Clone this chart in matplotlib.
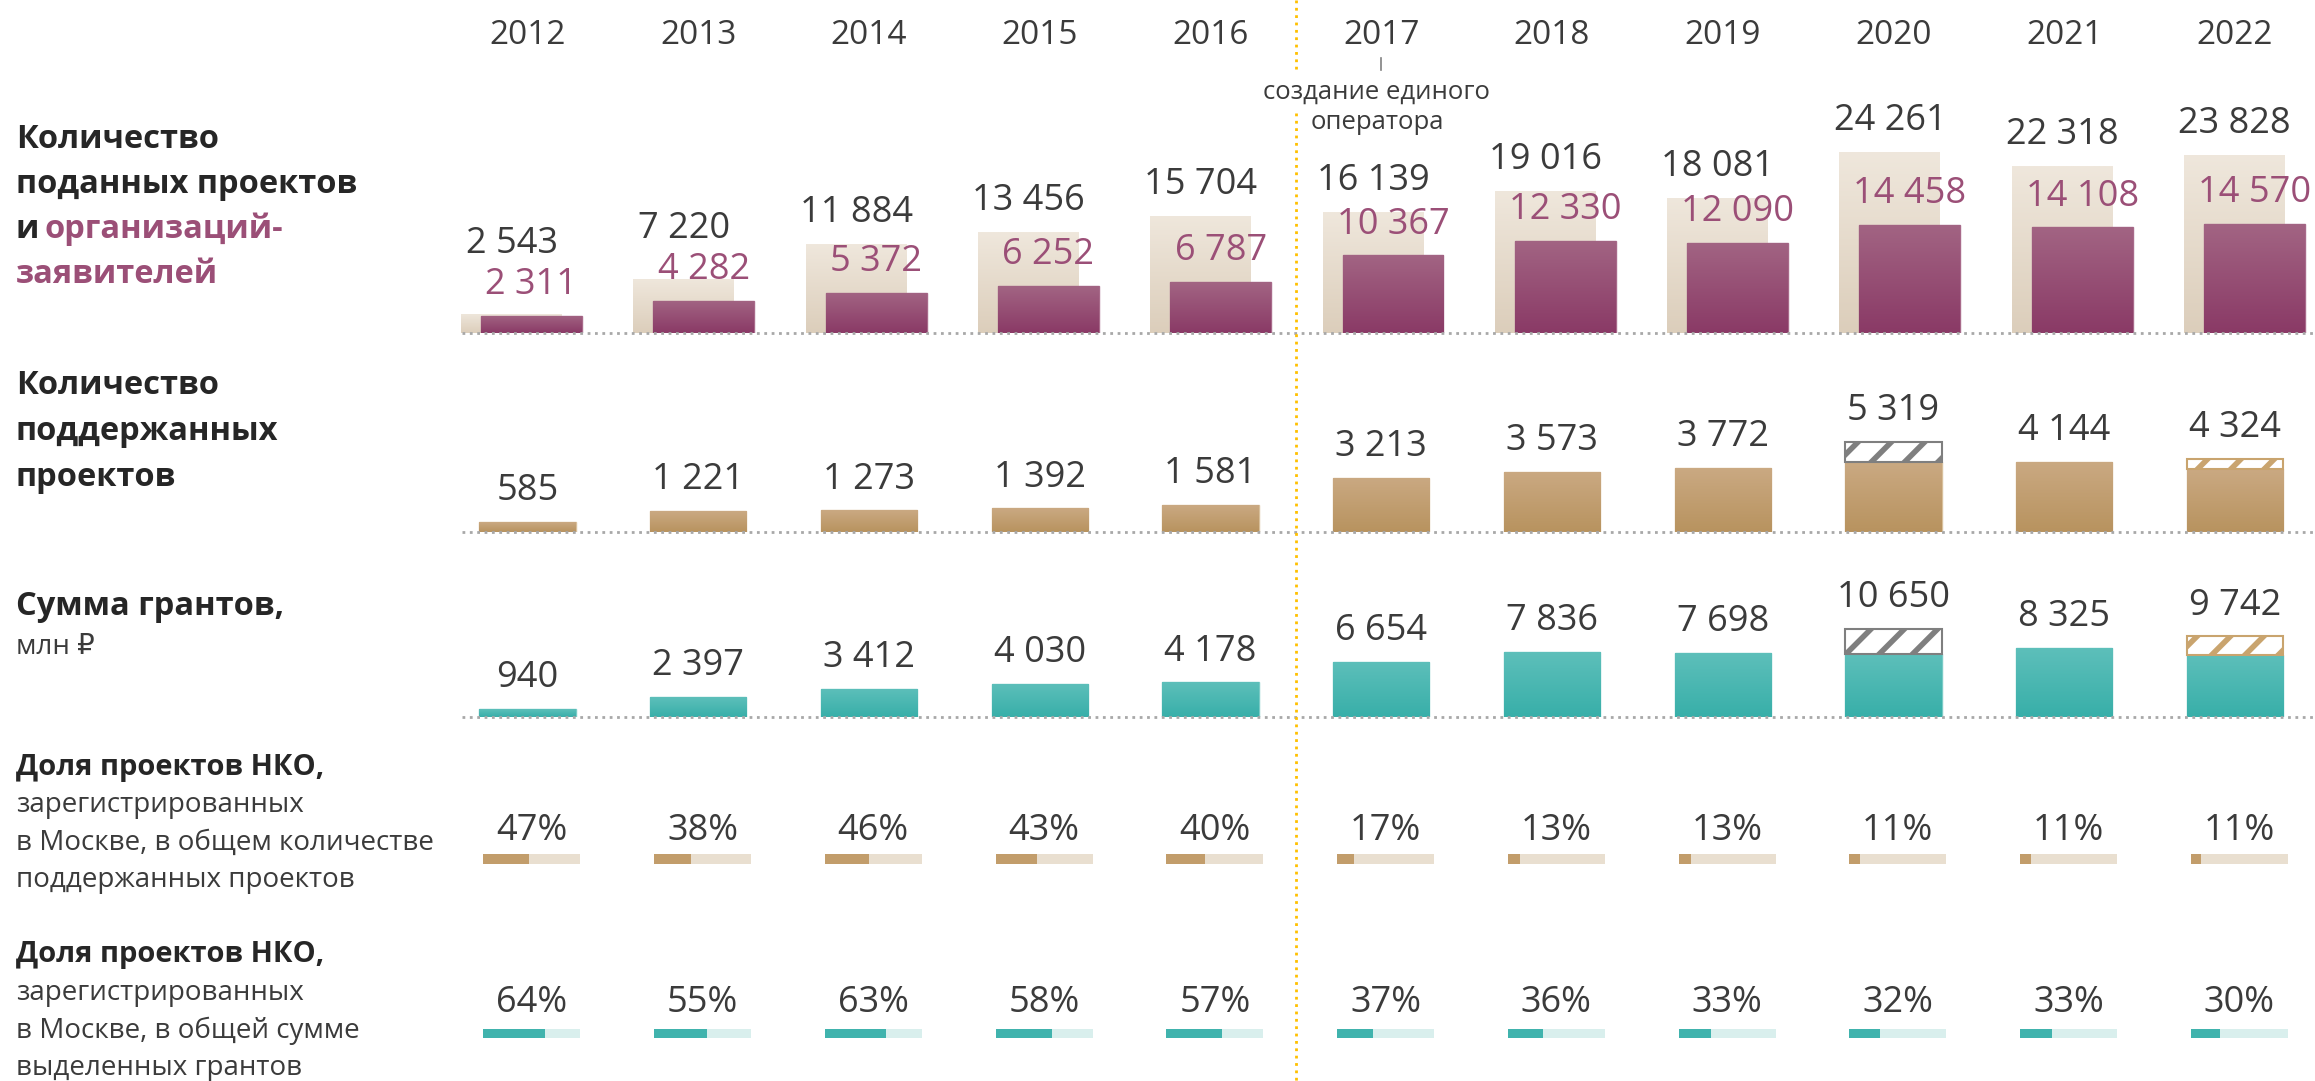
import numpy as np
import matplotlib
matplotlib.use('Agg')
import matplotlib.pyplot as plt
from matplotlib import transforms
from matplotlib.colors import LinearSegmentedColormap

plt.rcParams['font.family'] = ['Open Sans', 'DejaVu Sans']
plt.rcParams['hatch.linewidth'] = 4

# data
years = ['2012', '2013', '2014', '2015', '2016', '2017', '2018', '2019', '2020', '2021', '2022']
projects = [2543, 7220, 11884, 13456, 15704, 16139, 19016, 18081, 24261, 22318, 23828]
orgs = [2311, 4282, 5372, 6252, 6787, 10367, 12330, 12090, 14458, 14108, 14570]
supported = [585, 1221, 1273, 1392, 1581, 3213, 3573, 3772, 5319, 4144, 4324]
supported_hatched = [0, 0, 0, 0, 0, 0, 0, 0, 1182, 0, 606]
grants = [940, 2397, 3412, 4030, 4178, 6654, 7836, 7698, 10650, 8325, 9742]
grants_hatched = [0, 0, 0, 0, 0, 0, 0, 0, 3050, 0, 2230]
pct_count = [47, 38, 46, 43, 40, 17, 13, 13, 11, 11, 11]
pct_sum = [64, 55, 63, 58, 57, 37, 36, 33, 32, 33, 30]

# colours
TXT = '#3B3B3B'
DARK = '#262626'
PURPLE_TXT = '#9B4F77'
hatch_colors = {8: '#7F7F7F', 10: '#C9A46E'}

W, H = 2315, 1081
fig = plt.figure(figsize=(W / 100, H / 100), dpi=100)


def add_ax(left, right, top, bottom):
    ax = fig.add_axes([left / W, 1 - bottom / H, (right - left) / W, (bottom - top) / H])
    ax.axis('off')
    return ax


def fmt(v):
    return f'{v:,}'.replace(',', ' ')


def grad(ax, bars, c_top, c_bot):
    cmap = LinearSegmentedColormap.from_list('g', [c_bot, c_top])
    for b in bars:
        x0, y0, w, h = b.get_x(), b.get_y(), b.get_width(), b.get_height()
        if h <= 0 or w <= 0:
            continue
        im = ax.imshow(np.linspace(0, 1, 64).reshape(-1, 1), cmap=cmap, origin='lower',
                       extent=[x0, x0 + w, y0, y0 + h], aspect='auto', zorder=b.get_zorder() + 0.01)
        im.set_clip_path(b)


STEP, COL0 = 170.75, 527.5
x = np.arange(len(years))
LEFT = 462

# panel 1: submitted projects and organisations
ax1 = add_ax(LEFT, W, 333 - 224.4, 333)
ax1.set_xlim((LEFT - 521.5) / 172.3, (W - 521.5) / 172.3)
ax1.set_ylim(0, 30000)
per_px1 = 30000 / 224.4
b1 = ax1.bar(x - 0.058, projects, width=0.586, color='#E6DACA', zorder=2)
grad(ax1, b1, '#EFE7DC', '#DCCEBB')
b2 = ax1.bar(x + 0.058, orgs, width=0.586, color='#933F6C', edgecolor='#A86A8A', lw=1, zorder=3)
grad(ax1, b2, '#A26483', '#8A3A66')
ax1.axhline(0, ls=':', color='#A8A8A8', lw=2, zorder=10, clip_on=False)
for i in range(len(years)):
    ax1.annotate(fmt(orgs[i]), (x[i] + 0.058, orgs[i]), xytext=(0, 15.8), textcoords='offset points',
                 ha='center', va='baseline', fontsize=26, color=PURPLE_TXT, zorder=12)
    ytop = max(projects[i], orgs[i] + 41 * per_px1)
    ax1.annotate(fmt(projects[i]), (x[i] - 0.058, ytop), xytext=(0, 15.8), textcoords='offset points',
                 ha='center', va='baseline', fontsize=26, color=TXT, zorder=12)

# panel 2: supported projects
ax2 = add_ax(LEFT, W, 532 - 101.5, 532)
ax2.set_xlim((LEFT - COL0) / STEP, (W - COL0) / STEP)
ax2.set_ylim(0, 6000)
solid2 = [t - h for t, h in zip(supported, supported_hatched)]
b = ax2.bar(x, solid2, width=0.563, color='#C4A06E', edgecolor='#D8C09C', lw=1, zorder=2)
grad(ax2, b, '#CAA982', '#B8935F')
for i in range(len(years)):
    if supported_hatched[i] > 0:
        ax2.bar(x[i], supported_hatched[i], bottom=solid2[i], width=0.563, facecolor='white',
                edgecolor=hatch_colors[i], hatch='/', lw=1.5, zorder=3)
    ax2.annotate(fmt(supported[i]), (x[i], supported[i]), xytext=(0, 15.8), textcoords='offset points',
                 ha='center', va='baseline', fontsize=26, color=TXT)
ax2.axhline(0, ls=':', color='#A8A8A8', lw=2, zorder=10, clip_on=False)

# panel 3: grant sums
ax3 = add_ax(LEFT, W, 717 - 99.2, 717)
ax3.set_xlim((LEFT - COL0) / STEP, (W - COL0) / STEP)
ax3.set_ylim(0, 12000)
solid3 = [t - h for t, h in zip(grants, grants_hatched)]
b = ax3.bar(x, solid3, width=0.563, color='#48B8B2', edgecolor='#7ACBC6', lw=1, zorder=2)
grad(ax3, b, '#5DBFBA', '#38AFA9')
for i in range(len(years)):
    if grants_hatched[i] > 0:
        ax3.bar(x[i], grants_hatched[i], bottom=solid3[i], width=0.563, facecolor='white',
                edgecolor=hatch_colors[i], hatch='/', lw=1.5, zorder=3)
    ax3.annotate(fmt(grants[i]), (x[i], grants[i]), xytext=(0, 15.8), textcoords='offset points',
                 ha='center', va='baseline', fontsize=26, color=TXT)
ax3.axhline(0, ls=':', color='#A8A8A8', lw=2, zorder=10, clip_on=False)

# percentage rows
BW = 0.568
for (top, bot), vals, fg, bg in [((854, 864), pct_count, '#C29D6B', '#E9DFD0'),
                                 ((1029, 1038), pct_sum, '#40B3AD', '#D9EFED')]:
    ax = add_ax(LEFT, W, top, bot)
    ax.set_xlim((LEFT - COL0) / STEP, (W - COL0) / STEP)
    ax.set_ylim(0, 1)
    left = x - BW / 2 + 0.025
    ax.barh(0.5, BW, left=left, height=1, color=bg)
    ax.barh(0.5, [BW * v / 100 for v in vals], left=left, height=1, color=fg)

# overlay in pixel coordinates
ov = fig.add_axes([0, 0, 1, 1])
ov.set_xlim(0, W)
ov.set_ylim(H, 0)
ov.axis('off')
xf = transforms.blended_transform_factory(ax2.transData, ov.transData)

for i, yr in enumerate(years):
    ov.text(x[i], 44, yr, transform=xf, ha='center', va='baseline', fontsize=24, color=TXT)
    ov.text(x[i] + 0.025, 840, f'{pct_count[i]}%', transform=xf, ha='center', va='baseline',
            fontsize=26, color=TXT)
    ov.text(x[i] + 0.025, 1012, f'{pct_sum[i]}%', transform=xf, ha='center', va='baseline',
            fontsize=26, color=TXT)

# 2017 divider and note
ov.plot([4.5, 4.5], [0, 73], transform=xf, color='#FFC000', ls=':', lw=2)
ov.plot([4.5, 4.5], [113, H], transform=xf, color='#FFC000', ls=':', lw=2)
ov.plot([5, 5], [58, 70], transform=xf, color='#808080', lw=1.2)
ov.text(4.975, 99, 'создание единого', transform=xf, ha='center', va='baseline', fontsize=18.5, color=TXT)
ov.text(4.975, 129, 'оператора', transform=xf, ha='center', va='baseline', fontsize=18.5, color=TXT)

# row titles
BOLD = dict(fontsize=23.5, fontweight='bold', va='baseline', ha='left')
REG = dict(fontsize=20, va='baseline', ha='left', color=TXT)
ov.text(16, 148, 'Количество', color=DARK, **BOLD)
ov.text(16, 193, 'поданных проектов', color=DARK, **BOLD)
ov.text(16, 238, 'и', color=DARK, **BOLD)
ov.text(45, 238, 'организаций-', color=PURPLE_TXT, **BOLD)
ov.text(16, 283, 'заявителей', color=PURPLE_TXT, **BOLD)

ov.text(16, 394, 'Количество', color=DARK, **BOLD)
ov.text(16, 440, 'поддержанных', color=DARK, **BOLD)
ov.text(16, 486, 'проектов', color=DARK, **BOLD)

ov.text(16, 615, 'Сумма грантов,', color=DARK, **BOLD)
ov.text(16, 654, 'млн ₽', **REG)

BOLD2 = dict(BOLD, fontsize=21)
ov.text(16, 775, 'Доля проектов НКО,', color=DARK, **BOLD2)
ov.text(16, 812, 'зарегистрированных', **REG)
ov.text(16, 850, 'в Москве, в общем количестве', **REG)
ov.text(16, 887, 'поддержанных проектов', **REG)

ov.text(16, 962, 'Доля проектов НКО,', color=DARK, **BOLD2)
ov.text(16, 1000, 'зарегистрированных', **REG)
ov.text(16, 1038, 'в Москве, в общей сумме', **REG)
ov.text(16, 1075, 'выделенных грантов', **REG)

fig.savefig('out.png', dpi=100)
